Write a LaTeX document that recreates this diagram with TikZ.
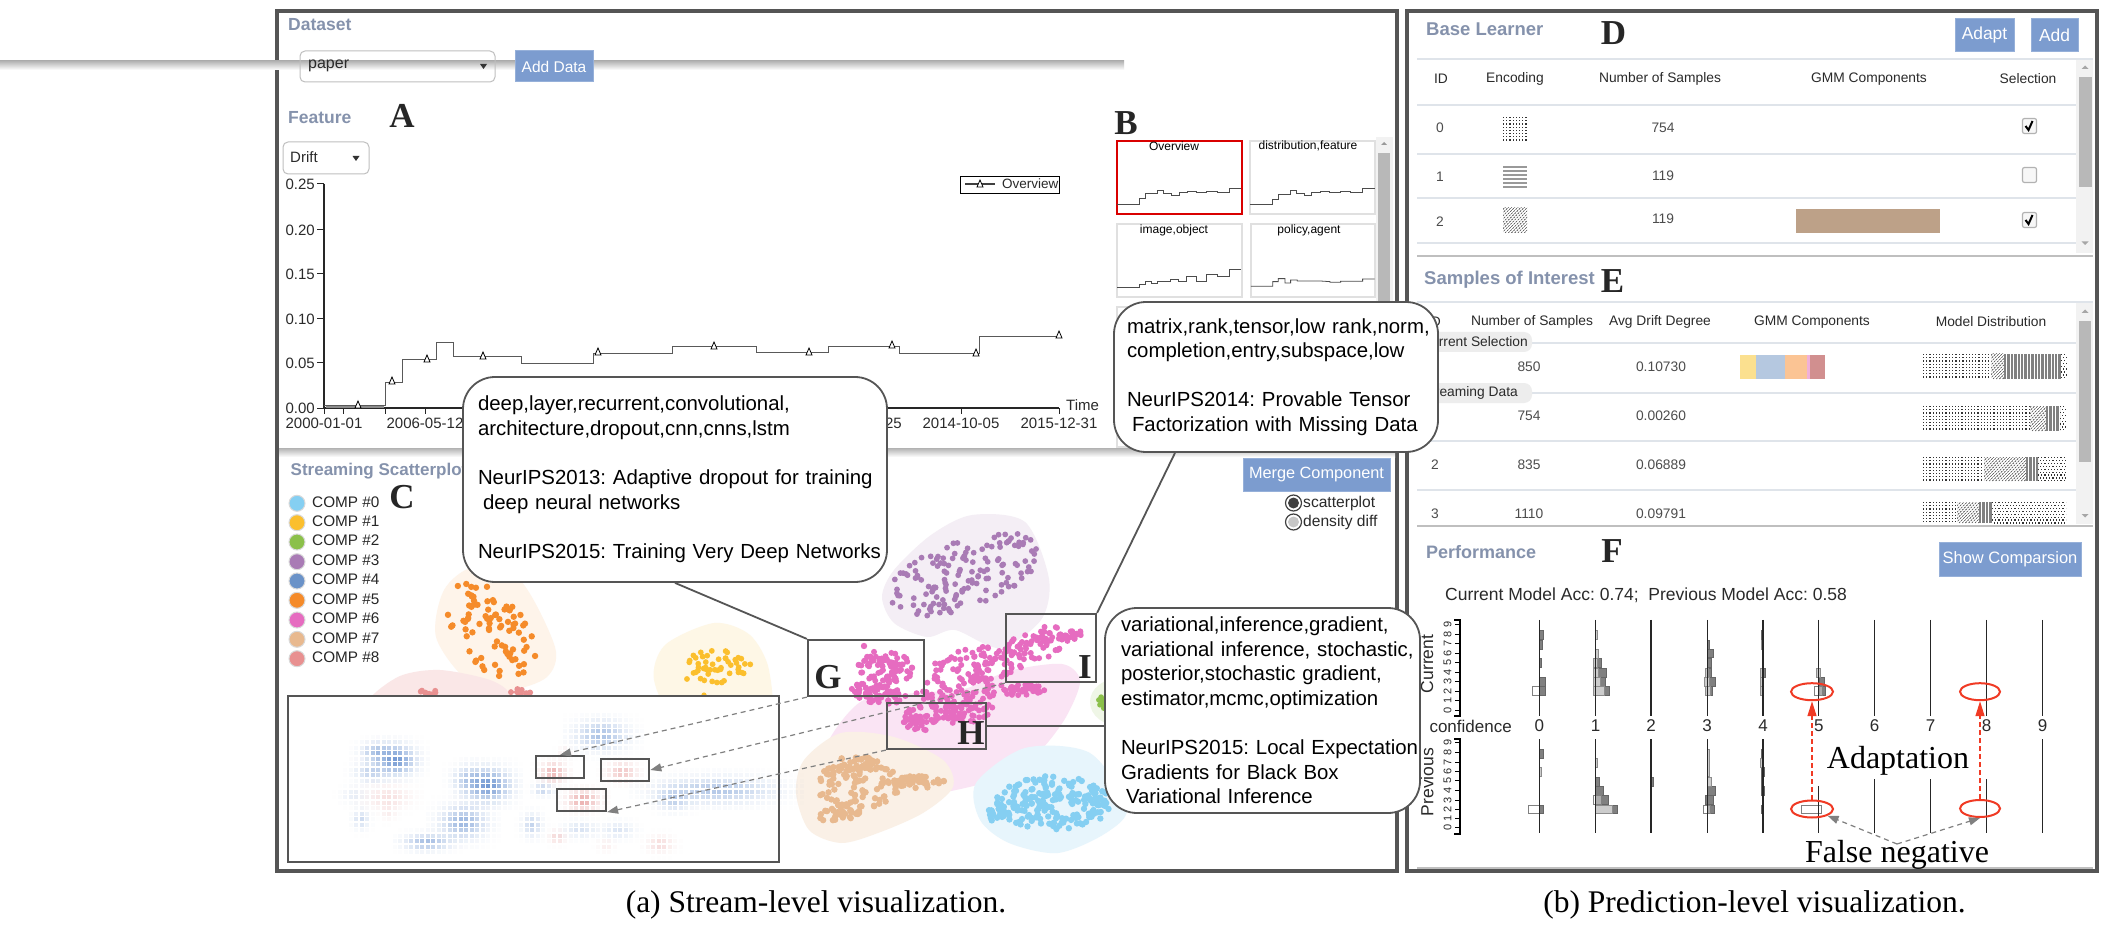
\documentclass[tikz,border=0pt]{standalone}
\usepackage{fontspec}
\setmainfont{Liberation Sans}
\newfontfamily\tmsf{Liberation Serif}
\usetikzlibrary{arrows.meta,calc,shapes.geometric}
\pgfdeclarelayer{base}\pgfdeclarelayer{conn}
\pgfsetlayers{base,conn,main}
\AtBeginDocument{\frenchspacing}
\newcommand{\fsz}[1]{\fontsize{#1}{#1}\selectfont}
\definecolor{frm}{HTML}{555555}
\definecolor{ttl}{HTML}{8592AC}
\definecolor{btnb}{HTML}{7C9CCF}
\definecolor{sep}{HTML}{DFE4EA}
\definecolor{txt}{HTML}{2A2A2A}
\definecolor{ared}{HTML}{F03A24}
\definecolor{cz}{HTML}{85CFF2}
\definecolor{co}{HTML}{FBBF2D}
\definecolor{ctw}{HTML}{8BC04A}
\definecolor{cth}{HTML}{A97BB5}
\definecolor{cfo}{HTML}{6A92C8}
\definecolor{cfi}{HTML}{F58B2A}
\definecolor{csi}{HTML}{E66CC0}
\definecolor{cse}{HTML}{E8B98F}
\definecolor{cei}{HTML}{E89090}
\definecolor{dblue}{HTML}{3F74C4}
\definecolor{dred}{HTML}{D9605E}
\definecolor{gmmb}{HTML}{BDA188}
\tikzset{
 panelfr/.style={draw=frm,line width=3.5pt},
 ptitle/.style={font=\fsz{17.5}\bfseries,text=ttl,inner sep=0pt,anchor=west},
 lett/.style={font=\tmsf\fsz{35}\bfseries,text=black!85,inner sep=0pt},
 btn/.style={fill=btnb,draw=btnb!80!white,line width=1pt,text=white,inner sep=0pt},
 selbox/.style={draw=black!25,line width=1pt,rounded corners=5pt},
 txtl/.style={font=\fsz{15},text=txt,inner sep=0pt},
 hdr/.style={font=\fsz{13.8},text=txt,inner sep=0pt},
 cell/.style={font=\fsz{13.8},text=black!70,inner sep=0pt},
 smallbox/.style={draw=black!12,line width=1.2pt},
 step line/.style={draw=black!65,line width=.9pt,line join=miter},
 mini/.style={draw=black!70,line width=.8pt},
 mk/.style={draw=black,line width=.8pt,fill=white},
 callout/.style={draw=frm,line width=1.8pt,fill=white,rounded corners=32pt,align=left,
   font=\fontsize{20.4}{24.6}\selectfont,text=black,inner ysep=0pt},
 zoomframe/.style={draw=frm,line width=2.2pt,minimum height=0pt},
 conn/.style={draw=frm,line width=1.8pt},
 dasharrow/.style={draw=black!50,line width=1.2pt,dash pattern=on 5pt off 4pt,
   -{Triangle[length=11pt,width=8pt,fill=black!50]}},
 redarrow/.style={draw=ared,line width=1.4pt,dash pattern=on 5pt off 3pt,
   -{Triangle[length=15pt,width=9pt,fill=ared]}},
 bD/.style={fill=black!50,draw=black!60,line width=.5pt},
 bL/.style={fill=black!20,draw=black!45,line width=.5pt},
 bO/.style={fill=white,fill opacity=.35,draw=black!50,line width=.8pt},
 zfour/.style={shift={(1000,100)},x=.3333pt,y=-.3333pt},
 zseven/.style={shift={(1405,530)},x=.4464pt,y=-.3333pt},
}
% N cx cy rx ry rot colour radius
\newcommand{\scat}[8]{%
 \foreach \kk in {1,...,#1}{%
  \pgfmathsetmacro\scR{sqrt(rnd)}%
  \pgfmathsetmacro\scA{360*rnd}%
  \pgfmathsetmacro\scU{#4*\scR*cos(\scA)}%
  \pgfmathsetmacro\scV{#5*\scR*sin(\scA)}%
  \fill[#7] ({#2+\scU*cos(#6)-\scV*sin(#6)},{#3+\scU*sin(#6)+\scV*cos(#6)}) circle (#8pt);
 }}
% cx cy sx sy colour amp
\newcommand{\dens}[6]{%
 \pgfmathtruncatemacro\dia{round((#1-2.4*#3-288)/5.5)}%
 \pgfmathtruncatemacro\dib{round((#1+2.4*#3-288)/5.5)}%
 \pgfmathtruncatemacro\dja{round((#2-2.4*#4-696)/5.5)}%
 \pgfmathtruncatemacro\djb{round((#2+2.4*#4-696)/5.5)}%
 \foreach \ii in {\dia,...,\dib}{\foreach \jj in {\dja,...,\djb}{%
  \pgfmathsetmacro\dx{288+5.5*\ii}\pgfmathsetmacro\dy{696+5.5*\jj}%
  \pgfmathsetmacro\dv{#6*exp(-0.5*((\dx-#1)/#3)^2-0.5*((\dy-#2)/#4)^2)}%
  \fill[#5,opacity=\dv] (\dx,\dy) rectangle ++(4.2,4.2);
 }}}
% x0 x1 y0 y1
\newcommand{\patdots}[4]{\begin{scope}
 \clip (#1,#3) rectangle (#2,#4);
 \foreach \yy in {#3,\fpeval{#3+3.2},...,#4}{\foreach \xx in {#1,\fpeval{#1+3.2},...,#2}{\fill[black!80] (\xx,\yy) rectangle ++(1.25,1.25);}}
 \end{scope}}
\newcommand{\patbars}[4]{\begin{scope}
 \clip (#1,#3) rectangle (#2,#4);
 \foreach \xx in {#1,\fpeval{#1+3.4},...,#2}{\fill[black!50] (\xx,#3) rectangle ++(2.3,#4-#3);}
 \end{scope}}
\newcommand{\pathatch}[4]{\begin{scope}
 \clip (#1,#3) rectangle (#2,#4);
 \foreach \xx in {\fpeval{#1-30},\fpeval{#1-26.8},...,#2}{\draw[black!75,line width=.6pt,dash pattern=on 2pt off 1pt] (\xx,#4) -- ++(30,-30);}
 \end{scope}}
\newcommand{\patchk}[4]{\begin{scope}
 \clip (#1,#3) rectangle (#2,#4);
 \foreach \yy in {#3,\fpeval{#3+5.8},...,#4}{\foreach \xx in {#1,\fpeval{#1+3.2},...,#2}{\fill[black!80] (\xx,\yy) rectangle ++(1.25,1.25);
   \fill[black!80] (\xx+1.6,\yy+2.9) rectangle ++(1.25,1.25);}}
 \end{scope}}
\begin{document}
\begin{tikzpicture}[x=1pt,y=-1pt]
\useasboundingbox (0,0) rectangle (2105,925);
\begin{pgfonlayer}{base}
\fill[white] (0,0) rectangle (2105,925);
% ---------- left panel ----------
\draw[panelfr] (277,11) rectangle (1397,871);
\shade[top color=black!30,bottom color=white] (0,61) rectangle (1124,70);
\shade[top color=black!30,bottom color=white] (279,448) rectangle (1395,457);
\node[ptitle] (tDataset) at (288,25) {Dataset};
\node[selbox,minimum width=195pt,minimum height=31pt] (selPaper) at (397.5,66.5) {};
\node[txtl,anchor=west,font=\fsz{16}] (selPaperT) at (308,66) {paper};
\fill[black!80] (480,64) -- (487,64) -- (483.5,69) -- cycle;
\node[btn,minimum width=78pt,minimum height=31pt,font=\fsz{15.5}] (bAddData) at (554,66.5) {Add Data};
\node[ptitle] (tFeature) at (288,118) {Feature};
\node[lett] (lA) at (402,116) {A};
\node[selbox,minimum width=86pt,minimum height=32pt] (selDrift) at (326,158) {};
\node[txtl,anchor=west] (selDriftT) at (290,157) {Drift};
\fill[black!80] (352.5,156) -- (359.5,156) -- (356,161) -- cycle;
% chart axes
\draw[black!85,line width=1.1pt] (324,184) -- (324,408) -- (1059,408);
\foreach \lab/\yy in {0.25/184,0.20/230,0.15/274,0.10/319,0.05/363,0.00/408}{
  \draw[black!85,line width=1pt] (324,\yy) -- (317,\yy);
  \node[txtl,anchor=east] (yt\lab) at (315,\yy) {\lab};
}
\foreach \xx in {324,343,385,425,961,1059}{\draw[black!85,line width=1pt] (\xx,408) -- (\xx,414);}
\node[txtl] (xa) at (324,423) {2000-01-01};
\node[txtl] (xb) at (425,423) {2006-05-12};
\node[txtl,anchor=east] (xc) at (902,423) {25};
\node[txtl] (xd) at (961,423) {2014-10-05};
\node[txtl] (xe) at (1059,423) {2015-12-31};
\node[txtl,anchor=west] (xTime) at (1066,405) {Time};
\draw[step line] (324,405) -| (385,382) -| (402,359) -| (436,342) -| (453,356) -| (521,363) -| (593,353) -| (672,346) -| (756,352) -| (828,346) -| (899,353) -| (979,336) -- (1059,336);
\draw[black!45,line width=1.5pt] (326,407) -- (384,407);
\foreach \xx/\yy in {358/405,392/381,427/359,483/356,598/352,714/346,809/352,892/345,976/353,1059/335}{
  \draw[mk] (\xx-3,\yy+3) -- (\xx+3,\yy+3) -- (\xx,\yy-4) -- cycle;
}
% legend
\node[draw=black,line width=.9pt,minimum width=99pt,minimum height=17pt,inner sep=0pt] (legBox) at (1009.5,184.5) {};
\node[txtl,anchor=west,font=\fsz{13.5}] (legT) at (1002,183.5) {Overview};
\draw[black!75,line width=1.5pt] (965,184) -- (995,184);
\draw[mk] (977,187) -- (983,187) -- (980,180) -- cycle;
% small multiples
\node[lett] (lB) at (1126,123) {B};
\fill[black!5] (1376,137) rectangle (1393,447);
\fill[black!28] (1378,153) rectangle (1390,447);
\fill[black!40] (1381,145) -- (1387,145) -- (1384,142) -- cycle;
\node[draw=red!85!black,line width=1.2pt,minimum width=125pt,minimum height=73pt,inner sep=0pt] (smA) at (1179.5,177.5) {};
\node[smallbox,minimum width=125pt,minimum height=73pt,inner sep=0pt] (smB) at (1312.5,177.5) {};
\node[smallbox,minimum width=125pt,minimum height=73pt,inner sep=0pt] (smC) at (1179.5,260.5) {};
\node[smallbox,minimum width=124pt,minimum height=73pt,inner sep=0pt] (smD) at (1313,260.5) {};
\node[smallbox,minimum width=125pt,minimum height=140pt,inner sep=0pt] (smE) at (1179.5,377) {};
\node[font=\fsz{12},inner sep=0pt] (smAt) at (1174,146) {Overview};
\node[font=\fsz{12},inner sep=0pt] (smBt) at (1308,146) {distribution,feature};
\node[font=\fsz{12},inner sep=0pt] (smCt) at (1174,230) {image,object};
\node[font=\fsz{12},inner sep=0pt] (smDt) at (1309,230) {policy,agent};
\begin{scope}[zfour]
\draw[mini] (352,312)-|(417,295)-|(437,281)-|(472,271)-|(490,280)-|(513,285)-|(537,277)-|(562,273)-|(588,277)-|(620,273)-|(652,278)-|(688,266)--(724,266);
\draw[mini] (750,313)-|(817,297)-|(835,282)-|(870,271)-|(890,280)-|(912,285)-|(935,277)-|(962,273)-|(988,277)-|(1020,273)-|(1052,278)-|(1087,266)--(1124,266);
\draw[mini] (352,563)-|(417,553)-|(437,545)-|(455,550)-|(472,543)-|(512,538)-|(535,543)-|(560,529)-|(588,544)-|(620,524)-|(652,528)-|(688,509)--(724,509);
\draw[mini] (753,559)-|(818,545)-|(835,536)-|(855,549)-|(872,540)-|(892,543)--(960,543)--(990,545)--(990,547)-|(1022,544)-|(1088,537)--(1124,537);
\end{scope}
% scatter blobs
\fill[cfi!10] plot[smooth cycle] coordinates {(474,567)(520,580)(555,647)(547,677)(509,690)(467,680)(436,637)(444,590)};
\fill[cei!22] plot[smooth cycle] coordinates {(369,700)(400,676)(440,670)(490,680)(510,695)(500,720)(380,720)};
\fill[co!12] plot[smooth cycle] coordinates {(714,623)(750,635)(769,670)(765,720)(680,720)(654,680)(665,645)};
\fill[cth!13] plot[smooth cycle] coordinates {(972,515)(1025,522)(1049,579)(1041,620)(1000,648)(955,630)(927,637)(894,623)(882,597)(894,570)(931,535)};
\fill[csi!18] plot[smooth cycle] coordinates {(1062,664)(1080,681)(1066,717)(1041,750)(1009,775)(951,791)(886,799)(849,791)(829,767)(829,740)(862,701)(915,693)(964,689)(1009,671)};
\fill[cse!22] plot[smooth cycle] coordinates {(841,733)(894,737)(943,760)(953,787)(923,813)(878,833)(841,843)(809,830)(796,793)(804,760)};
\fill[cz!20] plot[smooth cycle] coordinates {(1025,748)(1090,753)(1127,807)(1106,833)(1058,853)(1009,843)(980,820)(976,783)};
\fill[ctw!14] (1120,702) ellipse (30pt and 24pt);
\pgfmathsetseed{4242}
\scat{85}{490}{630}{56}{35}{48}{cfi}{3.2}
\scat{50}{715}{667}{37}{17}{-5}{co}{2.9}
\fill[co] (704,695) circle (2.6pt);
\scat{150}{964}{574}{80}{34}{-20}{cth}{2.9}
\scat{85}{886}{667}{28}{16}{5}{csi}{3}
\scat{60}{878}{693}{28}{11}{5}{csi}{3}
\scat{150}{964}{680}{52}{29}{-22}{csi}{3}
\scat{70}{1033}{647}{36}{17}{-25}{csi}{3}
\scat{18}{1072}{635}{12}{5}{-20}{csi}{3}
\scat{40}{919}{720}{18}{14}{0}{csi}{3}
\scat{55}{964}{712}{30}{11}{-5}{csi}{3}
\scat{35}{1025}{690}{22}{6}{-3}{csi}{3}
\fill[csi] (864,646) circle (3.2pt);
\scat{90}{858}{785}{42}{24}{0}{cse}{3.2}
\scat{50}{915}{782}{30}{6}{0}{cse}{3.2}
\scat{40}{841}{810}{25}{11}{-10}{cse}{3.2}
\scat{35}{858}{763}{22}{9}{0}{cse}{3.2}
\scat{190}{1053}{803}{58}{27}{0}{cz}{3.2}
\scat{18}{996}{815}{10}{7}{0}{cz}{3.2}
\scat{10}{1102}{703}{5}{7}{0}{ctw}{2.8}
\scat{8}{428}{692}{8}{3}{0}{cei}{3}
\scat{10}{520}{692}{11}{3}{0}{cei}{3}
% legend of components
\foreach \ii/\yy/\cc in {0/503.3/cz,1/522.7/co,2/542/ctw,3/561.7/cth,4/581/cfo,5/600.3/cfi,6/620/csi,7/639.3/cse,8/658.7/cei}{
  \draw[fill=\cc,draw=black!15,line width=1pt] (297,\yy) circle (8pt);
  \node[font=\fsz{15.3},text=black!85,inner sep=0pt,anchor=west] (cmp\ii) at (312,\yy-1.5) {COMP \#\ii};
}
\node[ptitle,font=\fsz{17}\bfseries] (tStream) at (290.5,471) {Streaming Scatterplot};
\node[lett] (lC) at (402,497) {C};
\node[btn,minimum width=147pt,minimum height=33pt,font=\fsz{16.3}] (bMerge) at (1316.5,474.5) {Merge Component};
\draw[draw=black!75,fill=white,line width=1.2pt] (1293.5,503) circle (8pt);
\fill[black!75] (1293.5,503) circle (5.5pt);
\draw[draw=black!75,fill=white,line width=1.2pt] (1293.5,522) circle (8pt);
\fill[black!22] (1293.5,522) circle (5.5pt);
\node[txtl,anchor=west,font=\fsz{15.6}] (rScatter) at (1303,503) {scatterplot};
\node[txtl,anchor=west,font=\fsz{15.6}] (rDens) at (1303,522) {density diff};
% inset
\node[draw=frm,fill=white,line width=2.2pt,minimum width=491pt,minimum height=166pt,inner sep=0pt] (inset) at (533.5,779) {};
\dens{394}{758}{12}{9}{dblue}{.7}
\dens{375}{750}{10}{6}{dblue}{.4}
\dens{369}{770}{10}{6}{dblue}{.3}
\dens{486}{783}{14}{10}{dblue}{.7}
\dens{467}{777}{10}{8}{dblue}{.3}
\dens{599}{733}{16}{9}{dblue}{.42}
\dens{541}{787}{6}{4}{dblue}{.3}
\dens{715}{788}{35}{8}{dblue}{.38}
\dens{671}{797}{10}{7}{dblue}{.3}
\dens{461}{820}{14}{10}{dblue}{.5}
\dens{425}{840}{14}{5}{dblue}{.45}
\dens{359}{817}{5}{6}{dblue}{.25}
\dens{530}{823}{6}{7}{dblue}{.3}
\dens{578}{827}{10}{5}{dblue}{.2}
\dens{616}{828}{10}{5}{dblue}{.18}
\dens{352}{793}{8}{5}{dblue}{.12}
\dens{551}{770}{8}{6}{dred}{.45}
\dens{620}{770}{9}{6}{dred}{.35}
\dens{581}{798}{10}{6}{dred}{.5}
\dens{386}{795}{14}{7}{dred}{.18}
\dens{658}{842}{8}{5}{dred}{.22}
\dens{555}{835}{5}{4}{dred}{.25}
\dens{604}{843}{5}{4}{dred}{.1}
\dens{386}{810}{5}{5}{dred}{.1}
\dens{562}{750}{4}{4}{dred}{.1}
\node[zoomframe,minimum width=48.5pt,minimum height=22pt,inner sep=0pt] (d1) at (560,767) {};
\node[zoomframe,minimum width=48.5pt,minimum height=22pt,inner sep=0pt] (d2) at (625,770) {};
\node[zoomframe,minimum width=49pt,minimum height=22pt,inner sep=0pt] (d3) at (581.5,800) {};
% zoom frames
\node[zoomframe,minimum width=116pt,minimum height=56pt,inner sep=0pt] (gbox) at (866,668) {};
\node[zoomframe,minimum width=99pt,minimum height=46pt,inner sep=0pt] (hbox) at (936.5,726) {};
\node[zoomframe,minimum width=90pt,minimum height=68pt,inner sep=0pt] (ibox) at (1051,648) {};
\node[lett] (lG) at (828,677) {G};
\node[lett] (lH) at (971,733) {H};
\node[lett] (lI) at (1085,667) {I};
\draw[dasharrow] (gbox.south west) -- (d1.north);
\draw[dasharrow] (ibox.south west) -- (d2.east);
\draw[dasharrow] (hbox.south west) -- (d3.south east);
% ---------- right panel ----------
\draw[panelfr] (1407,11) rectangle (2097,871);
\foreach \ya/\yb in {16/255,263/525,530/867}{
  \fill[black!25] (1417,\ya) rectangle (2093,\yb+2);
  \fill[white] (1417,\ya) rectangle (2093,\yb);
}
% D
\node[ptitle,font=\fsz{18.5}\bfseries] (tBase) at (1426,29) {Base Learner};
\node[lett] (lD) at (1613.5,33) {D};
\node[btn,minimum width=59pt,minimum height=33pt,font=\fsz{17.4}] (bAdapt) at (1984.5,35.5) {Adapt};
\node[btn,minimum width=47pt,minimum height=33pt,font=\fsz{17.4}] (bAdd) at (2054.5,35.5) {Add};
\draw[sep,line width=1.2pt] (1417,59) -- (2093,59);
\foreach \nm/\tx/\xx in {hA/ID/1441,hB/Encoding/1515,hC/Number of Samples/1660,hD/GMM Components/1869,hE/Selection/2028}{
  \node[hdr] (\nm) at (\xx,79) {\tx};
}
\draw[sep,line width=2.5pt] (1417,105) -- (2076,105);
\foreach \yy in {154,198,243}{\draw[sep,line width=1.2pt] (1417,\yy) -- (2076,\yy);}
\node[cell] (dr0) at (1440,128) {0};
\node[cell] (dr1) at (1440,177) {1};
\node[cell] (dr2) at (1440,222) {2};
\node[cell] (dn0) at (1663,128) {754};
\node[cell] (dn1) at (1663,176) {119};
\node[cell] (dn2) at (1663,219) {119};
\patdots{1503}{1527}{117}{142}
\foreach \yy in {0,...,5}{\fill[black!40] (1503,166.5+3.9*\yy) rectangle (1527,168.5+3.9*\yy);}
\pathatch{1503}{1527}{208}{233}
\fill[gmmb] (1796,209) rectangle (1940,233);
\foreach \nm/\yy in {ck0/126,ck1/175,ck2/220}{
  \node[draw=black!30,fill=black!3,line width=1.2pt,rounded corners=2pt,minimum width=14pt,minimum height=15pt,inner sep=0pt] (\nm) at (2029.5,\yy) {};
}
\foreach \yy in {126,220}{\draw[black,line width=2pt] (2025.5,\yy) -- (2028.5,\yy+4) -- (2032.5,\yy-5);}
\fill[black!5] (2076,60) rectangle (2093,253);
\fill[black!28] (2079,77) rectangle (2091.6,187);
\fill[black!35] (2081.5,69) -- (2088.5,69) -- (2085,65.5) -- cycle;
\fill[black!35] (2081.5,241.5) -- (2088.5,241.5) -- (2085,245) -- cycle;
% E
\node[ptitle,font=\fsz{18.5}\bfseries] (tSamples) at (1424,280) {Samples of Interest};
\node[lett] (lE) at (1612.6,281) {E};
\draw[sep,line width=1.5pt] (1417,302) -- (2093,302);
\foreach \nm/\tx/\xx in {eA/ID/1434,eB/Number of Samples/1532,eC/Avg Drift Degree/1660,eD/GMM Components/1812,eE/Model Distribution/1991}{
  \node[hdr] (\nm) at (\xx,322) {\tx};
}
\draw[sep,line width=2.2pt] (1417,343) -- (2076,343);
\draw[sep,line width=1.2pt] (1417,393) -- (2076,393);
\draw[sep,line width=1.2pt] (1417,441) -- (2076,441);
\draw[sep,line width=1.2pt] (1417,490) -- (2076,490);
\node[fill=black!7,rounded corners=8pt,minimum width=118pt,minimum height=20pt,inner sep=0pt] (pillA) at (1473,342) {};
\node[hdr,anchor=east] (pillAt) at (1528,342) {Current Selection};
\node[fill=black!7,rounded corners=8pt,minimum width=118pt,minimum height=20pt,inner sep=0pt] (pillB) at (1473,393) {};
\node[hdr,anchor=east] (pillBt) at (1518,393) {Streaming Data};
\foreach \nm/\nn/\dd/\yy in {a/850/0.10730/367,b/754/0.00260/416,c/835/0.06889/465,d/1110/0.09791/514}{
  \node[cell] (en\nm) at (1529,\yy) {\nn};
  \node[cell] (ed\nm) at (1661,\yy) {\dd};
}
\node[cell] (er2) at (1435,465) {2};
\node[cell] (er3) at (1435,514) {3};
\foreach \xa/\xb/\cc in {1740/1756/FBE08F,1756/1785/B5C8E0,1785/1807/FBC494,1807/1810/F0B0D8,1810/1825/D18F8F}{
  \definecolor{tmpc}{HTML}{\cc}\fill[tmpc] (\xa,355) rectangle (\xb,379);
}
\patdots{1923}{1956}{354}{379}\patdots{1956}{1991}{354}{379}\pathatch{1991}{2004}{354}{379}\patbars{2004}{2061}{354}{379}\patchk{2061}{2067}{354}{379}
\patdots{1923}{2030}{406}{431}\pathatch{2030}{2046}{406}{431}\patbars{2046}{2060}{406}{431}\patchk{2060}{2066}{406}{431}
\patdots{1923}{1984}{457}{481}\pathatch{1984}{2026}{457}{481}\patbars{2026}{2038}{457}{481}\patchk{2038}{2066}{457}{481}
\patdots{1923}{1957}{502}{523}\pathatch{1957}{1979}{502}{523}\patbars{1979}{1992}{502}{523}\patchk{1992}{2066}{502}{523}
\fill[black!5] (2076,303) rectangle (2093,524);
\fill[black!28] (2079,321) rectangle (2091,462);
\fill[black!35] (2081.5,313) -- (2088.5,313) -- (2085,309.5) -- cycle;
\fill[black!35] (2081.5,514) -- (2088.5,514) -- (2085,517.5) -- cycle;
% F
\node[ptitle,font=\fsz{18}\bfseries] (tPerf) at (1426,552) {Performance};
\node[lett] (lF) at (1612,551) {F};
\node[btn,minimum width=142pt,minimum height=34pt,font=\fsz{16.5}] (bShow) at (2010,559) {Show Comparsion};
\node[anchor=west,inner sep=0pt,font=\fsz{17.5},text=txt] (acc) at (1445,595) {Current Model Acc: 0.74;\ \ Previous Model Acc: 0.58};
\node[inner sep=0pt,font=\fsz{17.5},rotate=90,text=txt] (lCur) at (1427,664) {Current};
\node[inner sep=0pt,font=\fsz{17.5},rotate=90,text=txt] (lPrev) at (1427,782) {Previous};
\draw[black,line width=1.1pt] (1454,620) -- (1460,620) -- (1460,716) -- (1454,716);
\draw[black,line width=1.1pt] (1454,739) -- (1460,739) -- (1460,834) -- (1454,834);
\foreach \ll/\ya/\yb in {9/624.3/742.3,8/634/752.7,7/643.7/762.3,6/653.3/771.3,5/662.7/780.7,4/672/790.7,3/681.7/800,2/691/809.3,1/700.3/818.7,0/710/827.7}{
  \draw[black,line width=.9pt] (1455,\ya) -- (1460,\ya);
  \draw[black,line width=.9pt] (1455,\yb) -- (1460,\yb);
  \node[inner sep=0pt,font=\fsz{11},rotate=90,text=txt] (ta\ll) at (1447.5,\ya) {\ll};
  \node[inner sep=0pt,font=\fsz{11},rotate=90,text=txt] (tb\ll) at (1447.5,\yb) {\ll};
}
\node[inner sep=0pt,font=\fsz{17},text=txt] (conf) at (1470.6,726) {confidence};
\foreach \dg/\xx in {0/1539.4,1/1595.6,2/1651,3/1707.2,4/1763,5/1818.8,6/1874.6,7/1930.5,8/1986.7,9/2042.5}{
  \node[inner sep=0pt,font=\fsz{17},text=txt] (cl\dg) at (\xx,726) {\dg};
}
\begin{scope}[zseven]
\foreach \a/\b/\c/\d in {300/310/300/327,300/308/330/357,300/306/385/412,300/314/442/470,300/314/470/497,
  427/440/385/412,427/450/414/441,427/449/441/468,427/457/470/497,
  677/681/330/357,677/691/358/383,677/687/385/412,677/687/414/441,677/696/441/468,677/688/470/497,
  797/803/300/327,797/806/414/441,927/940/441/468,927/941/470/497,
  301/310/657/684,301/310/825/851,427/436/741/768,427/443/769/796,427/456/797/824,427/475/825/851,
  551/555/741/768,677/696/769/796,673/690/797/824,677/692/825/851,
  798/803/657/684,798/805/712/740,798/803/741/768,798/805/769/796,798/803/825/851}{
  \draw[bD] (\a,\c) rectangle (\b,\d);
}
\foreach \a/\b/\c/\d in {427/431/300/327,427/432/358/385,422/447/470/497,422/437/441/468,422/432/414/441,422/430/385/412,
  671/682/441/468,673/684/470/497,673/680/414/441,795/802/414/441,795/802/470/497,795/802/441/468,797/803/330/357,
  922/930/414/441,549/552/470/497,
  301/305/712/740,427/431/685/711,427/465/825/851,677/682/657/740,677/685/741/768,796/802/685/711}{
  \draw[bL] (\a,\c) rectangle (\b,\d);
}
\foreach \a/\b/\c/\d in {285/301/470/497,917/935/470/497,277/301/825/851,422/440/797/824,669/684/825/851,888/932/825/851}{
  \draw[bO] (\a,\c) rectangle (\b,\d);
}
\foreach \xx in {301,427,551,677,802,927,1052,1177,1303,1428}{
  \draw[black!85,line width=1.1pt] (\xx,270) -- (\xx,558);
}
\foreach \xx in {301,427,551,677,802,1428}{
  \draw[black!85,line width=1.1pt] (\xx,628) -- (\xx,910);
}
\draw[black!85,line width=1.1pt] (927,768) -- (927,910);
\foreach \xx in {1052,1177,1303}{\draw[black!85,line width=1.1pt] (\xx,748) -- (\xx,910);}
\end{scope}
\node[font=\tmsf\fsz{32},inner sep=0pt] (adapt) at (1898,761) {Adaptation};
\node[font=\tmsf\fsz{32},inner sep=0pt] (fneg) at (1897,855) {False negative};
\node[draw=ared,line width=2pt,shape=ellipse,minimum width=42pt,minimum height=17pt,inner sep=0pt] (e5t) at (1812,691.7) {};
\node[draw=ared,line width=2pt,shape=ellipse,minimum width=40pt,minimum height=17pt,inner sep=0pt] (e8t) at (1980,691.7) {};
\node[draw=ared,line width=2pt,shape=ellipse,minimum width=42pt,minimum height=17pt,inner sep=0pt] (e5b) at (1812,809) {};
\node[draw=ared,line width=2pt,shape=ellipse,minimum width=40pt,minimum height=17pt,inner sep=0pt] (e8b) at (1980,808.5) {};
\draw[redarrow] (e5b.north) -- (e5t.south);
\draw[redarrow] (e8b.north) -- (e8t.south);
\coordinate (fnTop) at (1897,844);
\draw[dasharrow] (fnTop) -- (e5b.south east);
\draw[dasharrow] (fnTop) -- (e8b.south);
% captions
\node[font=\tmsf\fsz{31.5},inner sep=0pt] (capA) at (816,904.5) {(a) Stream-level visualization.};
\node[font=\tmsf\fsz{31.5},inner sep=0pt] (capB) at (1754.5,904.5) {(b) Prediction-level visualization.};
\end{pgfonlayer}
% ---------- callouts ----------
\node[callout,minimum width=424pt,minimum height=205pt,text width=394pt,inner xsep=15pt] (calloutA) at (675,479.5) {\mbox{deep,layer,recurrent,convolutional,}\\\mbox{architecture,dropout,cnn,cnns,lstm}\\[24.6pt]\mbox{NeurIPS2013: Adaptive dropout for training}\\\mbox{\hspace*{5pt}deep neural networks}\\[24.6pt]\mbox{NeurIPS2015: Training Very Deep Networks}};
\node[callout,minimum width=324pt,minimum height=150pt,text width=298pt,inner xsep=13pt] (calloutI) at (1276,377) {\mbox{matrix,rank,tensor,low rank,norm,}\\\mbox{completion,entry,subspace,low}\\[24.6pt]\mbox{NeurIPS2014: Provable Tensor}\\\mbox{\hspace*{5pt}Factorization with Missing Data}};
\node[callout,minimum width=315pt,minimum height=205pt,text width=283pt,inner xsep=16pt] (calloutV) at (1262.5,710.5) {\mbox{variational,inference,gradient,}\\\mbox{variational inference, stochastic,}\\\mbox{posterior,stochastic gradient,}\\\mbox{estimator,mcmc,optimization}\\[24.6pt]\mbox{NeurIPS2015: Local Expectation}\\\mbox{Gradients for Black Box}\\\mbox{\hspace*{5pt}Variational Inference}};
\begin{pgfonlayer}{conn}
\draw[conn] (gbox.north west) -- (calloutA.south);
\draw[conn] (ibox.north east) -- ($(calloutI.south west)!0.19!(calloutI.south east)$);
\draw[conn] (hbox.east) -- (hbox.east -| calloutV.west);
\end{pgfonlayer}
\end{tikzpicture}
\end{document}
